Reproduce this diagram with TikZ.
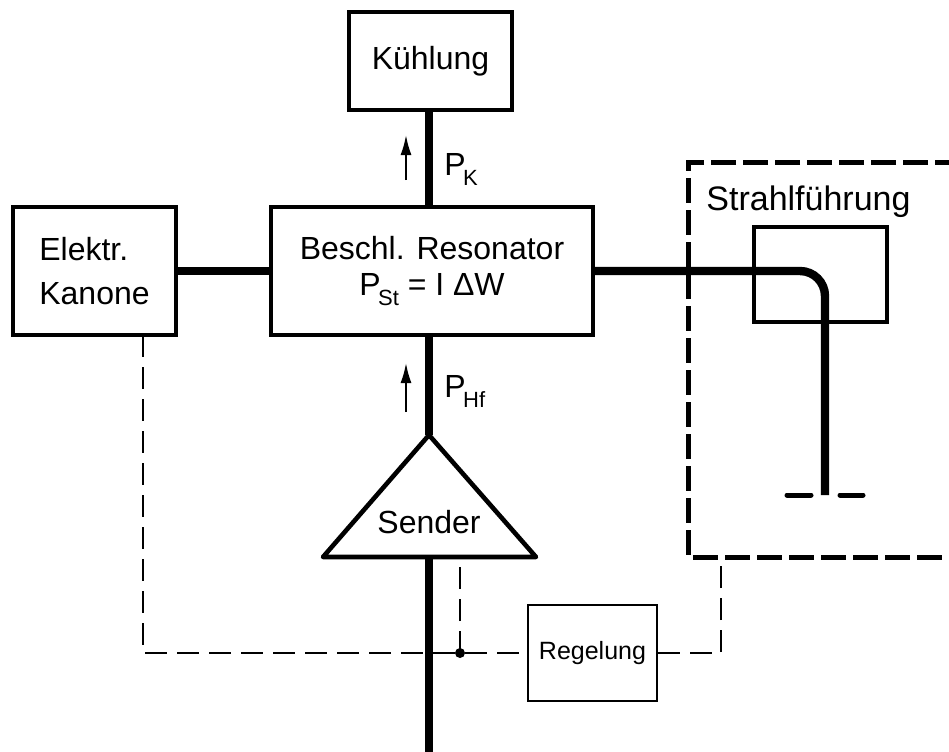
\documentclass[tikz,border=0pt]{standalone}
\usepackage{fontspec}
\setmainfont{Liberation Sans}
\usetikzlibrary{arrows.meta}
\newcommand{\Pidx}[1]{P\kern-0.08em\raisebox{-5pt}{\fontsize{11}{11}\selectfont #1}}
\begin{document}
\begin{tikzpicture}[x=0.5pt,y=-0.5pt,
  font=\fontsize{16}{18}\selectfont,
  box/.style={draw, line width=2pt, inner sep=0pt},
  beam/.style={line width=4.2pt},
  ctrl/.style={line width=1pt, dash pattern=on 11pt off 5pt},
  frame/.style={line width=2.5pt, dash pattern=on 12.5pt off 3.5pt},
  flow/.style={line width=1pt, -{Latex[length=10pt,width=5.5pt]}},
  lbl/.style={anchor=base west, inner sep=0pt}]
\useasboundingbox (0,0) rectangle (949,751);
\clip (0,0) rectangle (949,751);
% boxes
\node[box, minimum width=81.5pt, minimum height=49pt] (kuehl) at (430.5,61) {Kühlung};
\node[box, minimum width=161pt, minimum height=64pt, align=center, font=\fontsize{16}{18}\selectfont] (reso) at (432,271) {Beschl. Resonator\\\Pidx{St} = I ΔW};
\node[box, minimum width=81.5pt, minimum height=64pt, align=left, font=\fontsize{16}{22}\selectfont] (gun) at (94.5,271) {Elektr.\\Kanone};
\node[box, minimum width=66.5pt, minimum height=47.5pt] (bend) at (820.5,274.5) {};
\node[box, line width=1pt, minimum width=64.5pt, minimum height=48pt, font=\fontsize{12.5}{14}\selectfont] (regel) at (592.5,653) {Regelung};
\node[anchor=base west, inner sep=0pt, font=\fontsize{17}{19}\selectfont] (strahl) at (706,210) {Strahlführung};
% transmitter triangle
\coordinate (apex) at (429,435);
\coordinate (bl) at (323,557);
\coordinate (br) at (536,557);
\draw[line width=2.3pt, line join=round] (apex) -- (bl) -- (br) -- cycle;
\node[anchor=base, inner sep=0pt] (sender) at (429,533) {Sender};
% dashed frame of beam guidance
\coordinate (frNW) at (688,162);
\coordinate (frSW) at (688,557);
\draw[frame] (960,162) -- (frNW) -- (frSW) -- (960,557);
% thick power lines
\coordinate (bottom) at (429,760);
\draw[beam] (apex |- kuehl.south) -- (apex |- reso.north);
\draw[beam] (gun.east) -- (reso.west);
\draw[beam] (apex |- reso.south) -- (apex);
\draw[beam] (bottom |- bl) -- (bottom);
\coordinate (beamend) at (825,495);
\draw[beam, rounded corners=12.5pt] (reso.east) -- (beamend |- reso.east) -- (beamend);
\draw[line width=2.5pt, line cap=round] (beamend) ++(-38,0) -- ++(24,0);
\draw[line width=2.5pt, line cap=round] (beamend) ++(15,0) -- ++(23,0);
% flow arrows and labels
\draw[flow] (406,180) -- (406,135);
\draw[flow] (406,412) -- (406,363);
\node[lbl] (pk) at (444,175) {\Pidx{K}};
\node[lbl] (phf) at (444,397) {\Pidx{Hf}};
% control lines
\coordinate (gtap) at (143,335);
\coordinate (junc) at (460,653);
\coordinate (rtap) at (721,557);
\draw[ctrl] (gtap) -- (gtap |- regel.west) -- (regel.west);
\draw[ctrl] (junc) -- (junc |- bl);
\fill (junc) circle[radius=2.5pt];
\draw[ctrl] (regel.east) -- (rtap |- regel.east) -- (rtap);
\end{tikzpicture}
\end{document}
